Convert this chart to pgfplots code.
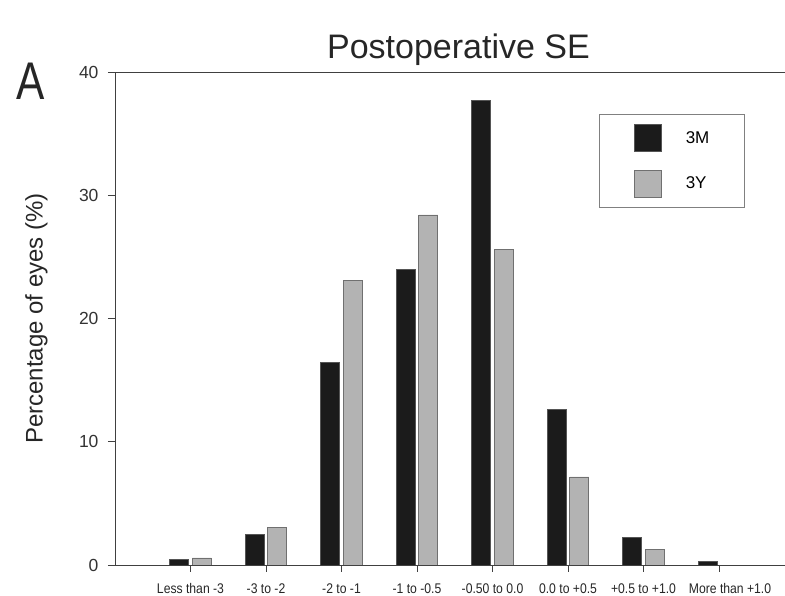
\documentclass[border=0pt]{standalone}
\usepackage{pgfplots}
\pgfplotsset{compat=1.18}
\usepackage{fontspec}
\setmainfont{Liberation Sans}
\newfontfamily\narrowfont{Liberation Sans}[FakeStretch=0.87]
\newfontfamily\afont{Liberation Sans}[FakeStretch=0.8]
\definecolor{barblack}{HTML}{1B1B1B}
\definecolor{edgeblack}{HTML}{555555}
\definecolor{bargray}{HTML}{B3B3B3}
\definecolor{edgegray}{HTML}{707070}
\definecolor{axisgray}{HTML}{404040}
\begin{document}
\begin{tikzpicture}[x=1pt,y=1pt]
\useasboundingbox (0,0) rectangle (785,596);
\begin{axis}[
  at={(115pt,31pt)}, anchor=south west,
  scale only axis, width=670pt, height=493pt,
  xmin=-1, xmax=7.874, ymin=0, ymax=40,
  separate axis lines,
  axis x line*=bottom, axis y line*=left,
  axis line style={-, draw=axisgray, line width=0.9pt},
  xtick={0,1,2,3,4,5,6,7},
  xticklabels={Less than -3,-3 to -2,-2 to -1,-1 to -0.5,-0.50 to 0.0,0.0 to +0.5,+0.5 to +1.0,\hspace*{22pt}More than +1.0},
  ytick={0,10,20,30,40},
  tick align=outside, major tick length=7pt,
  tick style={draw=axisgray, line width=0.9pt},
  /pgf/number format/assume math mode=true,
  yticklabel style={font=\fontsize{17.5}{17.5}\selectfont, text=black!80, xshift=-6pt},
  xticklabel style={font=\narrowfont\fontsize{14}{14}\selectfont, text=black!85, yshift=-8pt},
  ylabel={Percentage of eyes (\%)},
  ylabel style={font=\fontsize{24}{24}\selectfont, text=black!85, at={(axis description cs:-0.108,0.5)}, anchor=base},
  ybar=3.5pt, bar width=19pt,
  legend style={at={(axis description cs:0.7224,0.9148)}, anchor=north west,
    draw=black!50, line width=0.7pt, inner xsep=35pt, inner ysep=10pt,
    row sep=18pt, column sep=24pt, nodes={inner sep=0pt},
    font=\fontsize{17}{17}\selectfont},
  legend cell align=left,
  legend image code/.code={\draw[#1,line width=0.4pt] (0pt,-13.5pt) rectangle (27pt,13.5pt);},
]
\addplot[fill=barblack, draw=edgeblack, line width=0.8pt] coordinates {
  (0,0.46) (1,2.5) (2,16.4) (3,24.0) (4,37.7) (5,12.65) (6,2.2) (7,0.3)};
\addplot[fill=bargray, draw=edgegray, line width=0.8pt] coordinates {
  (0,0.57) (1,3.06) (2,23.1) (3,28.4) (4,25.6) (5,7.14) (6,1.27)};
\legend{3M,3Y}
\draw[draw=axisgray, line width=0.9pt] (rel axis cs:0,1) -- (rel axis cs:1,1);
\end{axis}
\node[font=\fontsize{34}{34}\selectfont, anchor=base, text=black!85] at (458.5,537) {Postoperative SE};
\node[font=\afont\fontsize{53}{53}\selectfont, anchor=base, text=black!85] at (31,496) {A};
\end{tikzpicture}
\end{document}
